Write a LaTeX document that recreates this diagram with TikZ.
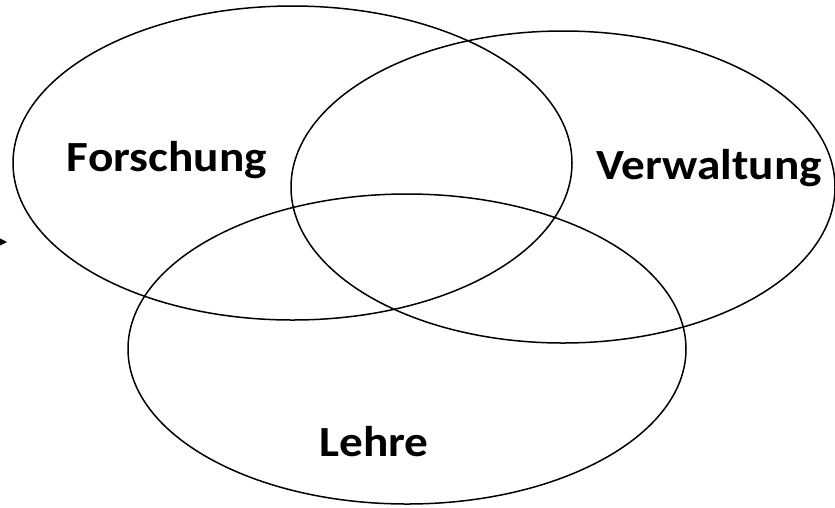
\documentclass[tikz,border=0pt]{standalone}
\usepackage{fontspec}
\usepackage{graphicx}
\setmainfont{Carlito}
\usetikzlibrary{arrows.meta}

\tikzset{
  menge/.style={line width=1.5pt},
  bereich/.style={font=\bfseries\fontsize{43}{43}\selectfont, inner sep=0pt}
}
\newcommand{\breit}[1]{\scalebox{1.1}[1]{#1}}

\begin{document}
\begin{tikzpicture}[x=1pt,y=-1pt]
    \useasboundingbox (0,0) rectangle (835,507);
    \clip (0,0) rectangle (835,507);

    % die drei Mengen
    \draw[menge] (292.5,163) ellipse [x radius=279.5, y radius=157];
    \draw[menge] (563,187) ellipse [x radius=272, y radius=156];
    \draw[menge] (407,349) ellipse [x radius=279, y radius=155];

    \node[bereich] (forschung) at (167,160) {\breit{Forschung}};
    \node[bereich] (verwaltung) at (709,168) {\breit{Verwaltung}};
    \node[bereich] (lehre) at (374,442) {\breit{Lehre}};

    % Pfeilspitze am linken Rand
    \coordinate (pfeil) at (7,242);
    \draw[-{Stealth[length=10pt,width=10pt]}, line width=1.5pt] (-30,242) -- (pfeil);
\end{tikzpicture}
\end{document}
